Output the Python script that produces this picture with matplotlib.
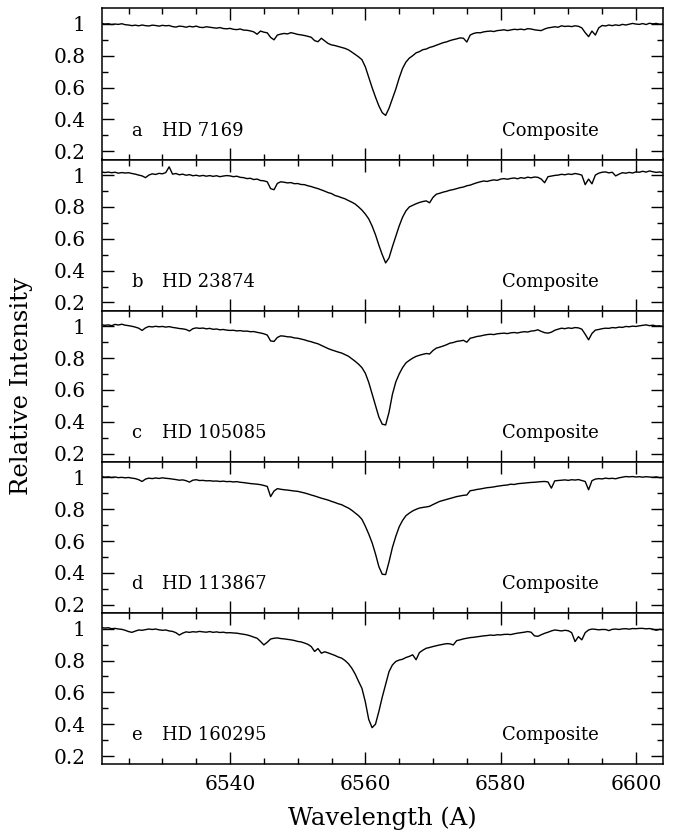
import numpy as np
import matplotlib
matplotlib.use("Agg")
import matplotlib.pyplot as plt
from matplotlib.ticker import MultipleLocator, FixedLocator, FuncFormatter

# H-alpha composite spectra, one panel per star.
# Relative intensity sampled every 0.5 A from 6521 to 6604 A (rows of 5 A).
stars = ["HD 7169", "HD 23874", "HD 105085", "HD 113867", "HD 160295"]
letters = ["a", "b", "c", "d", "e"]
wave = np.arange(6521.0, 6604.01, 0.5)

flux_a = [
    1.003, 0.999, 1.001, 0.996, 0.999, 0.997, 1.001, 0.995, 0.993, 0.989,
    0.992, 0.988, 0.993, 0.989, 0.987, 0.992, 0.990, 0.986, 0.991, 0.988,
    0.990, 0.983, 0.980, 0.986, 0.984, 0.979, 0.985, 0.981, 0.986, 0.979,
    0.977, 0.982, 0.979, 0.976, 0.973, 0.977, 0.971, 0.969, 0.972, 0.966,
    0.964, 0.968, 0.961, 0.960, 0.956, 0.950, 0.935, 0.955, 0.948, 0.944,
    0.915, 0.900, 0.930, 0.936, 0.940, 0.937, 0.945, 0.940, 0.934, 0.931,
    0.927, 0.922, 0.916, 0.895, 0.888, 0.910, 0.893, 0.877, 0.868, 0.864,
    0.858, 0.852, 0.846, 0.837, 0.823, 0.808, 0.793, 0.775, 0.730, 0.665,
    0.600, 0.540, 0.485, 0.442, 0.425, 0.470, 0.530, 0.590, 0.660, 0.720,
    0.760, 0.785, 0.800, 0.818, 0.826, 0.838, 0.842, 0.852, 0.858, 0.866,
    0.874, 0.882, 0.887, 0.895, 0.901, 0.906, 0.912, 0.910, 0.886, 0.930,
    0.940, 0.945, 0.944, 0.950, 0.953, 0.955, 0.952, 0.958, 0.960, 0.963,
    0.958, 0.962, 0.966, 0.964, 0.967, 0.963, 0.970, 0.968, 0.963, 0.960,
    0.958, 0.968, 0.975, 0.978, 0.982, 0.979, 0.988, 0.984, 0.986, 0.983,
    0.988, 0.985, 0.975, 0.945, 0.920, 0.955, 0.930, 0.975, 0.990, 0.987,
    0.993, 0.989, 0.994, 0.990, 0.997, 0.993, 0.998, 1.003, 0.999, 0.997,
    1.002, 0.996, 1.004, 1.000, 1.003, 0.998, 1.000]

flux_b = [
    1.020, 1.016, 1.019, 1.015, 1.018, 1.012, 1.016, 1.013, 1.015, 1.010,
    1.006, 1.000, 0.995, 0.984, 1.000, 1.008, 1.004, 1.011, 1.008, 1.016,
    1.052, 1.006, 1.010, 1.002, 1.006, 0.999, 1.003, 0.996, 0.999, 0.994,
    0.998, 0.993, 0.997, 0.992, 0.996, 0.990, 0.994, 0.997, 0.995, 0.990,
    0.993, 0.986, 0.984, 0.978, 0.980, 0.972, 0.975, 0.966, 0.964, 0.958,
    0.915, 0.908, 0.948, 0.958, 0.955, 0.951, 0.953, 0.946, 0.947, 0.941,
    0.940, 0.933, 0.928, 0.921, 0.915, 0.907, 0.899, 0.890, 0.884, 0.872,
    0.866, 0.858, 0.851, 0.840, 0.830, 0.818, 0.800, 0.780, 0.755, 0.725,
    0.680, 0.625, 0.560, 0.500, 0.448, 0.480, 0.550, 0.615, 0.680, 0.735,
    0.775, 0.800, 0.810, 0.820, 0.828, 0.834, 0.838, 0.826, 0.860, 0.880,
    0.886, 0.893, 0.898, 0.905, 0.909, 0.915, 0.921, 0.925, 0.933, 0.937,
    0.945, 0.952, 0.958, 0.963, 0.960, 0.966, 0.970, 0.967, 0.975, 0.978,
    0.974, 0.979, 0.982, 0.977, 0.984, 0.980, 0.987, 0.983, 0.988, 0.986,
    0.975, 0.952, 0.990, 0.994, 0.998, 1.000, 1.005, 1.002, 1.007, 1.004,
    1.010, 1.006, 1.000, 0.940, 0.975, 0.945, 1.000, 1.012, 1.018, 1.020,
    1.014, 1.018, 0.995, 1.006, 1.015, 1.012, 1.017, 1.013, 1.020, 1.018,
    1.024, 1.019, 1.026, 1.021, 1.017, 1.020, 1.015]

flux_c = [
    1.010, 1.006, 1.009, 1.004, 1.012, 1.008, 1.013, 1.007, 1.004, 1.000,
    0.995, 0.988, 0.974, 0.990, 0.999, 0.996, 1.000, 0.997, 0.999, 0.995,
    0.998, 0.993, 0.990, 0.986, 0.984, 0.980, 0.970, 0.985, 0.990, 0.987,
    0.989, 0.984, 0.987, 0.981, 0.983, 0.978, 0.980, 0.976, 0.974, 0.975,
    0.971, 0.973, 0.969, 0.970, 0.966, 0.967, 0.962, 0.958, 0.953, 0.945,
    0.908, 0.905, 0.930, 0.940, 0.938, 0.934, 0.933, 0.927, 0.925, 0.920,
    0.915, 0.908, 0.903, 0.896, 0.890, 0.880, 0.870, 0.860, 0.852, 0.845,
    0.838, 0.832, 0.822, 0.812, 0.796, 0.780, 0.762, 0.740, 0.705, 0.648,
    0.575, 0.500, 0.430, 0.385, 0.380, 0.460, 0.572, 0.650, 0.700, 0.740,
    0.770, 0.786, 0.800, 0.811, 0.818, 0.824, 0.829, 0.826, 0.848, 0.863,
    0.869, 0.876, 0.884, 0.894, 0.898, 0.905, 0.908, 0.912, 0.900, 0.925,
    0.930, 0.936, 0.939, 0.944, 0.948, 0.950, 0.948, 0.953, 0.955, 0.957,
    0.954, 0.959, 0.961, 0.958, 0.963, 0.966, 0.964, 0.970, 0.972, 0.978,
    0.968, 0.960, 0.957, 0.963, 0.975, 0.982, 0.988, 0.985, 0.990, 0.987,
    0.992, 0.990, 0.982, 0.950, 0.915, 0.955, 0.976, 0.980, 0.985, 0.988,
    0.987, 0.992, 0.990, 0.995, 0.993, 0.999, 0.997, 1.001, 0.999, 1.003,
    1.006, 1.009, 1.004, 1.007, 1.002, 1.003, 0.999]

flux_d = [
    1.006, 1.002, 1.004, 1.000, 1.003, 0.999, 1.001, 0.998, 1.000, 0.996,
    0.993, 0.986, 0.975, 0.990, 0.996, 0.993, 0.997, 0.994, 0.998, 0.995,
    0.993, 0.990, 0.987, 0.983, 0.985, 0.980, 0.971, 0.983, 0.986, 0.981,
    0.982, 0.979, 0.980, 0.977, 0.978, 0.975, 0.977, 0.974, 0.975, 0.972,
    0.974, 0.970, 0.968, 0.965, 0.962, 0.960, 0.958, 0.955, 0.950, 0.944,
    0.880, 0.915, 0.930, 0.926, 0.923, 0.921, 0.918, 0.915, 0.913, 0.908,
    0.903, 0.897, 0.890, 0.884, 0.877, 0.870, 0.864, 0.858, 0.850, 0.843,
    0.835, 0.829, 0.818, 0.808, 0.794, 0.777, 0.760, 0.737, 0.694, 0.645,
    0.590, 0.520, 0.440, 0.392, 0.390, 0.470, 0.560, 0.630, 0.690, 0.730,
    0.760, 0.776, 0.790, 0.800, 0.808, 0.812, 0.815, 0.819, 0.830, 0.840,
    0.850, 0.856, 0.862, 0.868, 0.874, 0.880, 0.884, 0.888, 0.890, 0.917,
    0.920, 0.925, 0.928, 0.932, 0.936, 0.938, 0.941, 0.945, 0.948, 0.951,
    0.953, 0.958, 0.956, 0.961, 0.963, 0.965, 0.967, 0.969, 0.970, 0.972,
    0.974, 0.975, 0.972, 0.933, 0.979, 0.981, 0.983, 0.985, 0.982, 0.986,
    0.984, 0.987, 0.981, 0.975, 0.923, 0.980, 0.990, 0.993, 0.991, 0.996,
    0.993, 0.995, 0.992, 0.998, 1.002, 1.006, 1.004, 1.006, 1.003, 1.005,
    1.002, 1.005, 1.003, 1.001, 1.004, 0.999, 1.000]

flux_e = [
    1.007, 1.004, 1.006, 1.000, 1.002, 0.998, 0.996, 0.990, 0.982, 0.977,
    0.985, 0.992, 0.990, 0.994, 0.998, 0.995, 0.998, 0.993, 0.990, 0.992,
    0.986, 0.983, 0.975, 0.960, 0.972, 0.980, 0.977, 0.981, 0.979, 0.983,
    0.980, 0.978, 0.982, 0.977, 0.980, 0.976, 0.978, 0.974, 0.975, 0.973,
    0.972, 0.968, 0.965, 0.961, 0.955, 0.947, 0.940, 0.920, 0.898, 0.915,
    0.935, 0.940, 0.942, 0.938, 0.936, 0.933, 0.930, 0.926, 0.920, 0.917,
    0.910, 0.902, 0.888, 0.857, 0.875, 0.846, 0.855, 0.848, 0.840, 0.832,
    0.822, 0.815, 0.800, 0.780, 0.752, 0.715, 0.669, 0.625, 0.540, 0.430,
    0.378, 0.400, 0.480, 0.570, 0.650, 0.730, 0.772, 0.794, 0.803, 0.808,
    0.819, 0.826, 0.836, 0.805, 0.850, 0.865, 0.877, 0.882, 0.888, 0.893,
    0.898, 0.902, 0.906, 0.905, 0.898, 0.925, 0.930, 0.936, 0.940, 0.944,
    0.946, 0.949, 0.952, 0.955, 0.957, 0.960, 0.958, 0.962, 0.961, 0.964,
    0.965, 0.963, 0.968, 0.972, 0.975, 0.978, 0.982, 0.978, 0.955, 0.952,
    0.962, 0.971, 0.978, 0.986, 0.992, 0.989, 0.986, 0.990, 0.987, 0.975,
    0.919, 0.950, 0.930, 0.975, 0.992, 0.998, 0.996, 0.993, 0.995, 0.995,
    0.988, 0.996, 0.998, 0.995, 0.999, 1.000, 0.997, 1.001, 1.000, 1.002,
    1.002, 0.999, 1.001, 0.997, 0.990, 0.996, 0.994]

fluxes = [flux_a, flux_b, flux_c, flux_d, flux_e]

plt.rcParams["font.family"] = ["DejaVu Serif"]

fig = plt.figure(figsize=(6.78, 8.36), dpi=100)
left, right = 101.5 / 678, 663.0 / 678
top, bottom = 1 - 8.3 / 836, 1 - 764.3 / 836
h = (top - bottom) / 5

for i in range(5):
    ax = fig.add_axes([left, top - (i + 1) * h, right - left, h])
    ax.plot(wave, fluxes[i], color="black", lw=1.0)
    ax.set_xlim(6521, 6604)
    ax.set_ylim(0.148, 1.098)

    ax.xaxis.set_major_locator(MultipleLocator(20))
    ax.xaxis.set_minor_locator(MultipleLocator(5))
    ax.yaxis.set_major_locator(FixedLocator([0.2, 0.4, 0.6, 0.8, 1.0]))
    ax.yaxis.set_minor_locator(MultipleLocator(0.1))
    ax.yaxis.set_major_formatter(FuncFormatter(lambda v, p: "%g" % round(v, 1)))
    ax.tick_params(which="both", direction="in", top=True, right=True, width=1.0,
                   labelsize=14.5)
    ax.tick_params(which="major", length=8.5)
    ax.tick_params(which="minor", length=4.5)
    ax.tick_params(axis="y", pad=11.5)
    for s in ax.spines.values():
        s.set_linewidth(1.1)
    if i < 4:
        ax.tick_params(labelbottom=False)
    else:
        ax.tick_params(axis="x", pad=8)

    ax.text(6526.2, 0.33, letters[i], fontsize=13, ha="center", va="center")
    ax.text(6530.0, 0.33, stars[i], fontsize=13, ha="left", va="center")
    ax.text(6580.2, 0.33, "Composite", fontsize=13, ha="left", va="center")

fig.text(21.5 / 678, 1 - 386.5 / 836, "Relative Intensity", rotation=90,
         ha="center", va="center", fontsize=17.5)
fig.text((left + right) / 2, 1 - 818 / 836, "Wavelength (A)",
         ha="center", va="center", fontsize=17.5)

fig.savefig("out.png", dpi=100)
